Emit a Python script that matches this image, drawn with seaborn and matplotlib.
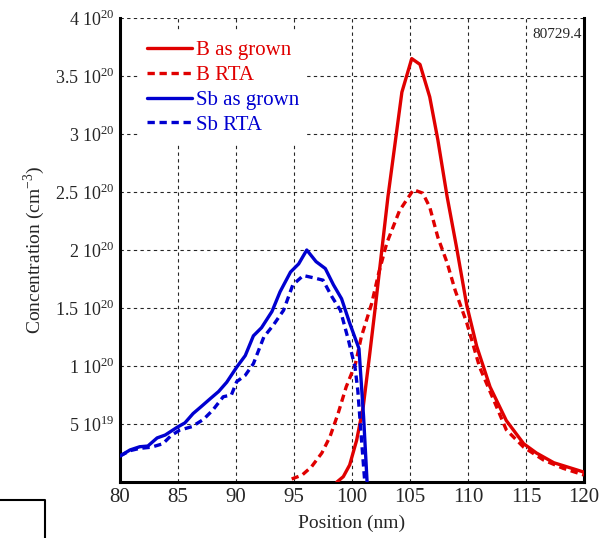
import numpy as np
import pandas as pd
import matplotlib
matplotlib.use("Agg")
import matplotlib.pyplot as plt
import seaborn as sns
from matplotlib.lines import Line2D

# ---- data ----
sb_grown_x = [80.0, 80.86, 81.7, 82.4, 83.2, 83.9, 84.9, 85.6, 86.3, 87.0, 87.8, 88.5, 89.2,
              90.06, 90.8, 91.5, 92.2, 93.1, 93.8, 94.7, 95.4, 96.1, 96.9, 97.7, 98.4, 99.1,
              99.8, 100.6, 101.0, 101.3]
sb_grown_y = [2.24e19, 2.76e19, 3.04e19, 3.1e19, 3.8e19, 4.05e19, 4.7e19, 5.1e19, 5.9e19, 6.5e19,
              7.2e19, 7.8e19, 8.6e19, 9.9e19, 1.09e20, 1.26e20, 1.33e20, 1.47e20, 1.64e20, 1.81e20,
              1.88e20, 2.0e20, 1.9e20, 1.84e20, 1.70e20, 1.58e20, 1.37e20, 1.15e20, 5.6e19, 0.0]

sb_rta_x = [80.0, 80.86, 81.7, 82.7, 83.7, 84.4, 85.17, 86.2, 87.2, 88.0, 88.9, 89.6, 90.06, 90.8,
            91.5, 92.4, 93.2, 94.1, 94.9, 95.8, 96.7, 97.5, 98.25, 99.0, 99.7, 100.26, 100.5,
            100.8, 101.1]
sb_rta_y = [2.24e19, 2.7e19, 2.9e19, 3.0e19, 3.3e19, 4.0e19, 4.48e19, 4.77e19, 5.4e19, 6.2e19,
            7.35e19, 7.5e19, 8.65e19, 9.2e19, 1.02e20, 1.25e20, 1.35e20, 1.48e20, 1.70e20, 1.78e20,
            1.76e20, 1.74e20, 1.60e20, 1.48e20, 1.22e20, 9.9e19, 7.9e19, 3.9e19, 0.0]

b_grown_x = [98.7, 99.25, 99.8, 100.4, 100.97, 101.5, 102.0, 103.1, 104.3, 105.15, 105.86, 106.7,
             107.4, 108.2, 109.0, 109.9, 110.75, 111.9, 113.3, 114.8, 115.9, 117.4, 120.0]
b_grown_y = [0.0, 4.6e18, 1.47e19, 3.6e19, 6.5e19, 1.08e20, 1.5e20, 2.46e20, 3.36e20, 3.65e20,
             3.6e20, 3.32e20, 2.95e20, 2.46e20, 2.03e20, 1.52e20, 1.17e20, 8.2e19, 5.3e19,
             3.3e19, 2.5e19, 1.66e19, 8.5e18]

b_rta_x = [94.8, 95.7, 96.5, 97.4, 98.1, 98.8, 99.5, 100.3, 100.8, 101.7, 102.3, 103.0, 104.1,
           105.3, 106.1, 106.7, 107.4, 108.2, 108.9, 109.9, 111.0, 112.2, 113.3, 114.8, 116.5,
           118.2, 120.0]
b_rta_y = [2.6e18, 6e18, 1.3e19, 2.5e19, 3.9e19, 5.9e19, 8.2e19, 1.02e20, 1.25e20, 1.54e20,
           1.8e20, 2.06e20, 2.34e20, 2.52e20, 2.49e20, 2.37e20, 2.11e20, 1.89e20, 1.65e20,
           1.37e20, 9.9e19, 7.1e19, 4.5e19, 3.0e19, 1.9e19, 1.18e19, 6e18]

x_ticks = [80, 85, 90, 95, 100, 105, 110, 115, 120]
y_ticks = [5e19, 1e20, 1.5e20, 2e20, 2.5e20, 3e20, 3.5e20, 4e20]
y_tick_labels = [r"5 10$^{19}$", r"1 10$^{20}$", r"1.5 10$^{20}$", r"2 10$^{20}$",
                 r"2.5 10$^{20}$", r"3 10$^{20}$", r"3.5 10$^{20}$", r"4 10$^{20}$"]

series = [
    ("B as grown", b_grown_x, b_grown_y, "#e00000", "-"),
    ("B RTA", b_rta_x, b_rta_y, "#e00000", (0, (2.2, 1.4))),
    ("Sb as grown", sb_grown_x, sb_grown_y, "#0000d0", "-"),
    ("Sb RTA", sb_rta_x, sb_rta_y, "#0000d0", (0, (2.2, 1.4))),
]

sns.set_style("white")
plt.rcParams["font.family"] = ["Liberation Serif", "DejaVu Serif"]
plt.rcParams["mathtext.fontset"] = "custom"
plt.rcParams["mathtext.rm"] = "Liberation Serif"

fig = plt.figure(figsize=(6.14, 5.38), dpi=100)
ax = fig.add_axes([120 / 614, 1 - 482 / 538, 464 / 614, 464 / 538])

handles = []
for name, xs, ys, col, ls in series:
    df = pd.DataFrame({"x": xs, "y": ys})
    sns.lineplot(data=df, x="x", y="y", ax=ax, color=col, linewidth=2.4,
                 sort=False, estimator=None, zorder=3)
    ax.lines[-1].set_linestyle(ls)
    handles.append(Line2D([0], [0], color=col, lw=2.4, linestyle=ls, label=name))

ax.set_xlim(80, 120)
ax.set_ylim(0, 4e20)
ax.set_xticks(x_ticks)
ax.set_xticklabels([str(t) for t in x_ticks], fontsize=15)
ax.set_yticks(y_ticks)
ax.set_yticklabels(y_tick_labels, fontsize=13)
ax.tick_params(direction="in", length=5, width=1, color="black", pad=4)
ax.set_xlabel("Position (nm)", fontsize=14, labelpad=6)
ax.set_ylabel("Concentration (cm$^{-3}$)", fontsize=14, labelpad=6)

ax.grid(True, color="black", linestyle=(0, (3, 3)), linewidth=0.8, alpha=0.85)
ax.set_axisbelow(True)
for side in ["left", "bottom", "right"]:
    ax.spines[side].set_visible(True)
    ax.spines[side].set_color("black")
    ax.spines[side].set_linewidth(2.2)
ax.spines["top"].set_visible(False)

leg = ax.legend(handles=handles, loc="upper left", bbox_to_anchor=(0.031, 0.978),
                frameon=True, facecolor="white", edgecolor="none", framealpha=1.0,
                fancybox=False, fontsize=15, handlelength=2.15, handletextpad=0.2,
                labelspacing=0.25, borderaxespad=0.2, borderpad=0.4)
leg.set_zorder(5)
for txt, h in zip(leg.get_texts(), handles):
    txt.set_color(h.get_color())

ax.text(0.995, 0.978, "80729.4", transform=ax.transAxes, ha="right", va="top", fontsize=11)

# stray frame fragment at lower left
fig.add_artist(Line2D([0, 45 / 614, 45 / 614], [1 - 500 / 538, 1 - 500 / 538, 0],
                      transform=fig.transFigure, color="black", lw=1.5))

fig.savefig("out.png", dpi=100)
